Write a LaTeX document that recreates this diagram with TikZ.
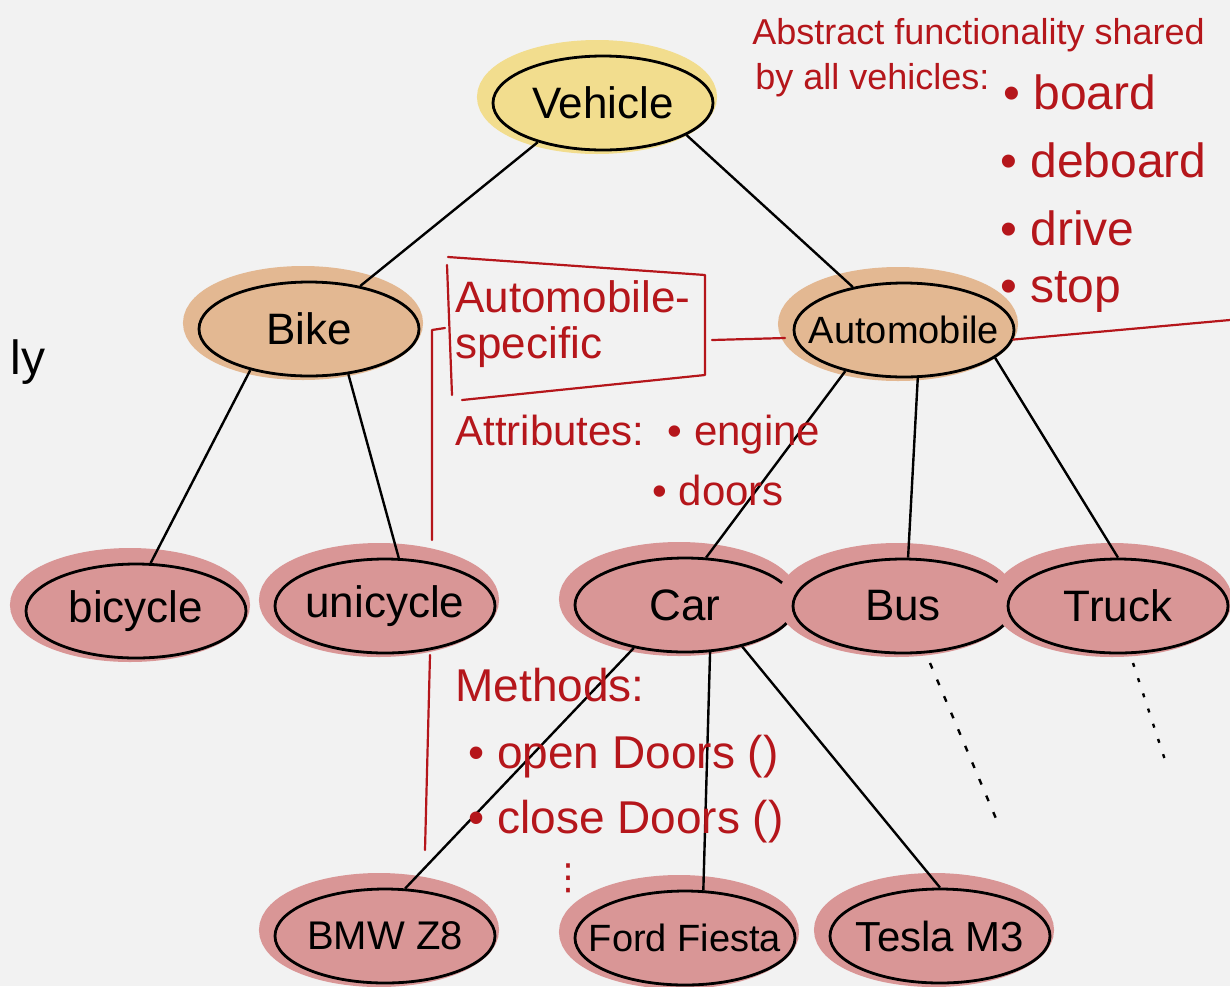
\documentclass[tikz,border=0pt]{standalone}
\usepackage{fontspec}
\setmainfont{Liberation Sans}
\newfontfamily\symfont{DejaVu Sans}
\usetikzlibrary{shapes.geometric}

\definecolor{paper}{HTML}{F2F2F2}
\definecolor{ink}{HTML}{B5161B}
\definecolor{yellowfill}{HTML}{F2DD8E}
\definecolor{tanfill}{HTML}{E3B892}
\definecolor{pinkfill}{HTML}{D99696}

\begin{document}
\begin{tikzpicture}[x=0.5pt,y=-0.5pt,
    cls/.style={ellipse, draw, line width=1.4pt, minimum width=110pt,
      minimum height=47pt, inner xsep=-10pt, inner ysep=0pt,
      font=\fontsize{22}{24}\selectfont},
    blob/.style={preaction={draw=#1, fill=#1, line width=10pt,
      transform canvas={xshift=-3pt, yshift=3pt}}, fill=#1},
    edge/.style={line width=1.2pt},
    note/.style={text=ink, anchor=west, inner sep=0pt},
    redline/.style={draw=ink, line width=1.1pt, line cap=round, line join=round}]
    \useasboundingbox (0,0) rectangle (1230,986);
    \fill[paper] (0,0) rectangle (1230,986);

    % class tree
    \node[cls, blob=yellowfill] (vehicle) at (603,103) {Vehicle};
    \node[cls, blob=tanfill] (bike) at (309,329) {Bike};
    \node[cls, blob=tanfill, font=\fontsize{19}{21}\selectfont] (automobile) at (904,330) {Automobile};
    \node[cls, blob=pinkfill] (bicycle) at (136,611) {bicycle};
    \node[cls, blob=pinkfill] (unicycle) at (385,606) {unicycle};
    \node[cls, blob=pinkfill] (car) at (685,605) {Car};
    \node[cls, blob=pinkfill] (bus) at (903,606) {Bus};
    \node[cls, blob=pinkfill] (truck) at (1118,606) {Truck};
    \node[cls, blob=pinkfill, font=\fontsize{20}{22}\selectfont] (bmw) at (385,936) {BMW Z8};
    \node[cls, blob=pinkfill, font=\fontsize{19}{21}\selectfont] (fiesta) at (685,938) {Ford Fiesta};
    \node[cls, blob=pinkfill, font=\fontsize{21}{23}\selectfont] (tesla) at (940,936) {Tesla M3};

    \draw[edge] (vehicle.211) -- (bike.40);
    \draw[edge] (vehicle.339) -- (automobile.140);
    \draw[edge] (bike.215) -- (bicycle.73);
    \draw[edge] (bike.311) -- (unicycle.74);
    \draw[edge] (automobile.215) -- (car.66);
    \draw[edge] (automobile.286) -- (bus.84);
    \draw[edge] (automobile.343) -- (truck.90);
    \draw[edge] (car.220) -- (bmw.67);
    \draw[edge] (car.298) -- (fiesta.69);
    \draw[edge] (car.324) -- (tesla.90);

    % more subclasses
    \coordinate (busA) at (930,663);
    \coordinate (busB) at (1000,828);
    \coordinate (truckA) at (1133,663);
    \coordinate (truckB) at (1165,760);
    \draw[edge, dash pattern=on 3pt off 6pt] (busA) -- (busB);
    \draw[edge, dash pattern=on 2pt off 6pt] (truckA) -- (truckB);

    % notes
    \node[font=\fontsize{24}{26}\selectfont, anchor=west, inner sep=0pt] (cutoff) at (10,362) {ly};

    \node[note, font=\fontsize{18}{20}\selectfont] (abstract) at (752,35) {Abstract functionality shared};
    \node[note, font=\fontsize{18}{20}\selectfont] (byall) at (755,80) {by all vehicles:};
    \node[note, font=\fontsize{24}{26}\selectfont] (board) at (1003,92) {\textbullet\ board};
    \node[note, font=\fontsize{24}{26}\selectfont] (deboard) at (1000,160) {\textbullet\ deboard};
    \node[note, font=\fontsize{24}{26}\selectfont] (drive) at (1000,228) {\textbullet\ drive};
    \node[note, font=\fontsize{24}{26}\selectfont] (stop) at (1000,292) {\textbullet\ stop};
    \coordinate (edgeR) at (1230,320);
    \draw[redline] (automobile.355) -- (edgeR);

    \node[note, font=\fontsize{22}{24}\selectfont] (autospec) at (455,297) {Automobile-};
    \node[note, font=\fontsize{22}{24}\selectfont] (specific) at (455,347) {specific};
    \draw[redline] (448,257) -- (705,275) -- (705,375) -- (462,400);
    \draw[redline] (447,265) -- (452,395);
    \coordinate (boxR) at (712,340);
    \coordinate (autoL) at (785,338);
    \draw[redline] (boxR) -- (autoL);

    \node[note, font=\fontsize{21}{23}\selectfont] (attrib) at (455,435) {Attributes:\ \ \textbullet\ engine};
    \node[note, font=\fontsize{21}{23}\selectfont] (doors) at (652,490) {\textbullet\ doors};
    \draw[redline] (445,328) -- (432,330) -- (432,540);
    \draw[redline] (430,655) -- (425,850);

    \node[note, font=\fontsize{23}{25}\selectfont] (methods) at (455,685) {Methods:};
    \node[note, font=\fontsize{23}{25}\selectfont] (opendoors) at (468,757) {\textbullet\ open Doors ()};
    \node[note, font=\fontsize{23}{25}\selectfont] (closedoors) at (468,822) {\textbullet\ close Doors ()};
    \node[note, font=\fontsize{18}{20}\symfont] (more) at (550,878) {⋮};
\end{tikzpicture}
\end{document}
